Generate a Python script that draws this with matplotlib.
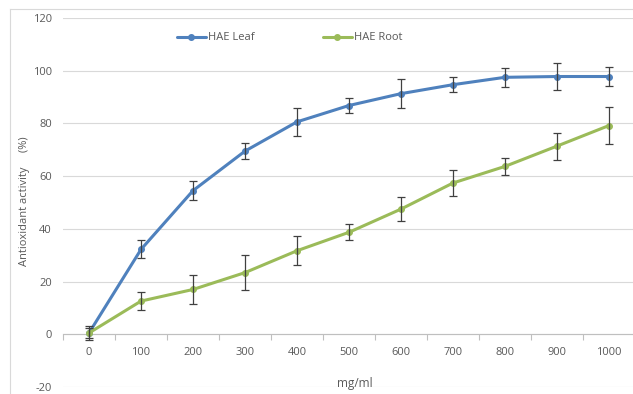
import matplotlib.pyplot as plt
import numpy as np

concentrations = ["0", "100", "200", "300", "400", "500", "600", "700", "800", "900", "1000"]
y_ticks = [-20, 0, 20, 40, 60, 80, 100, 120]

leaf_mean = [0.5, 32.2, 54.5, 69.5, 80.6, 86.8, 91.3, 94.7, 97.5, 97.8, 97.8]
leaf_err = [2.5, 3.4, 3.6, 3.0, 5.2, 2.8, 5.4, 2.8, 3.5, 5.1, 3.7]

root_mean = [0.5, 12.6, 17.0, 23.4, 31.7, 38.7, 47.5, 57.4, 63.7, 71.4, 79.2]
root_err = [2.0, 3.4, 5.6, 6.6, 5.6, 3.0, 4.4, 4.8, 3.2, 5.1, 7.0]

series_names = ["HAE Leaf", "HAE Root"]
colors = ["#4F81BD", "#9BBB59"]

text_color = "#595959"
plt.rcParams.update({
    "font.family": ["Open Sans", "DejaVu Sans"],
    "font.size": 8,
    "axes.unicode_minus": False,
})

fig = plt.figure(figsize=(6.33, 3.94), dpi=100)
ax = fig.add_axes([63 / 633, 7 / 394, 572 / 633, 369 / 394])

x = np.arange(len(concentrations))

for mean, err, name, c in [(leaf_mean, leaf_err, series_names[0], colors[0]),
                           (root_mean, root_err, series_names[1], colors[1])]:
    ax.plot(x, mean, color=c, lw=2.2, marker="o", ms=4, label=name,
            solid_capstyle="round", zorder=3)
    ax.errorbar(x, mean, yerr=err, fmt="none", ecolor="#404040",
                elinewidth=0.9, capsize=3, capthick=0.9, zorder=4)

ax.set_xlim(-0.5, len(concentrations) - 0.5)
ax.set_ylim(-20, 120)
ax.set_yticks(y_ticks)
ax.set_yticklabels([str(v) for v in y_ticks])
ax.grid(axis="y", color="#D9D9D9", lw=0.8)
ax.set_axisbelow(True)

ax.set_xticks(x)
ax.set_xticklabels(concentrations)
ax.set_xticks(np.arange(-0.5, len(concentrations), 1), minor=True)
ax.tick_params(axis="x", which="major", length=0, pad=9, colors=text_color)
ax.tick_params(axis="x", which="minor", length=4, color="#BFBFBF", width=0.8)
ax.tick_params(axis="y", length=0, pad=8, colors=text_color)

for s in ["top", "right", "left"]:
    ax.spines[s].set_visible(False)
ax.spines["bottom"].set_position(("data", 0))
ax.spines["bottom"].set_color("#BFBFBF")
ax.spines["bottom"].set_linewidth(0.8)

ax.legend(ncol=2, loc="center left", bbox_to_anchor=((177 - 63) / 572, (387 - 38) / 369),
          frameon=False, borderpad=0, borderaxespad=0, handlelength=2.6,
          handletextpad=0.15, columnspacing=6.2, labelcolor=text_color)

fig.text(25 / 633, 0.49, "Antioxidant activity     (%)", rotation=90,
         ha="center", va="center", color=text_color, fontsize=8)
fig.text(355 / 633, 11 / 394, "mg/ml", ha="center", va="center",
         color=text_color, fontsize=8.5)

# light chart-area border (left and top edges visible)
fig.add_artist(plt.Line2D([10 / 633, 10 / 633], [0, 1 - 9 / 394], color="#D9D9D9", lw=0.8,
                          transform=fig.transFigure))
fig.add_artist(plt.Line2D([10 / 633, 1], [1 - 9 / 394, 1 - 9 / 394], color="#D9D9D9", lw=0.8,
                          transform=fig.transFigure))

fig.savefig("out.png", dpi=100)
